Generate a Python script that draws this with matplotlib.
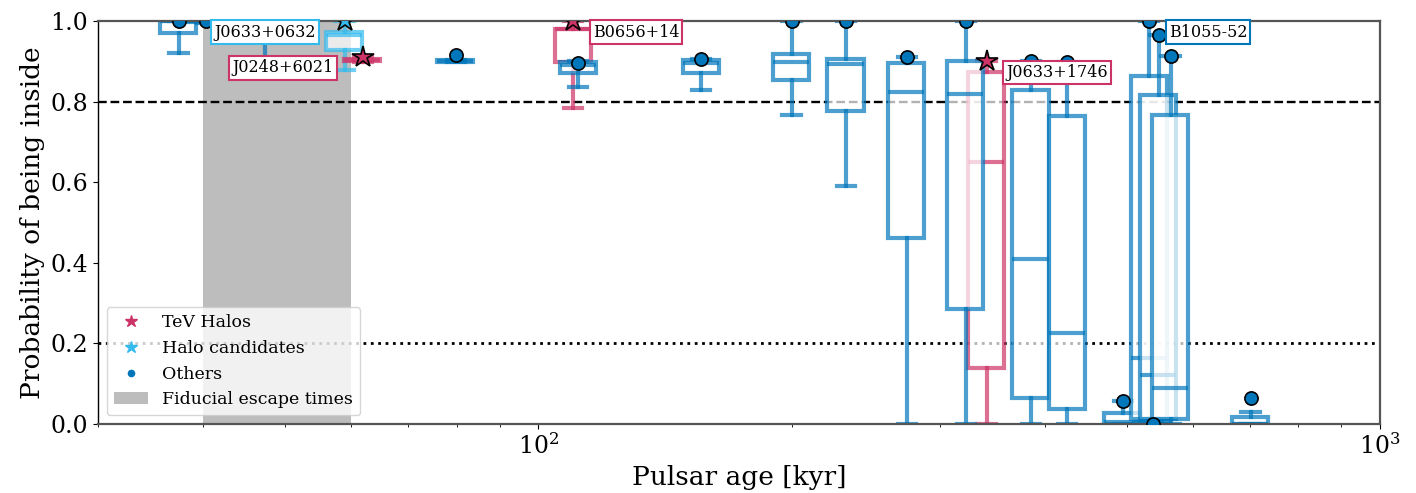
import numpy as np
import matplotlib
matplotlib.use("Agg")
import matplotlib.pyplot as plt
from matplotlib.lines import Line2D
from matplotlib.patches import Patch

plt.rcParams['font.family'] = ['DejaVu Serif']
plt.rcParams['mathtext.fontset'] = 'dejavuserif'

# ---- data ----
ages    = [37.4, 40.3, 47.4, 58.9, 61.9, 79.8, 110.1, 111.6, 156.3, 200, 232, 274, 322, 341, 385, 425, 495, 537, 532, 546, 564, 702]
whislo  = [0.921, 0.995, 0.905, 0.878, 0.898, 0.898, 0.785, 0.837, 0.829, 0.767, 0.591, 0.0, 0.0, 0.0, 0.0, 0.0, 0.0, 0.0, 0.0, 0.0, 0.0, 0.0]
q1      = [0.970, 0.998, 0.960, 0.928, 0.900, 0.899, 0.899, 0.871, 0.871, 0.854, 0.777, 0.461, 0.285, 0.138, 0.064, 0.036, 0.0, 0.0, 0.012, 0.012, 0.012, 0.0]
median  = [1.000, 1.000, 0.990, 0.965, 0.903, 0.901, 0.980, 0.890, 0.897, 0.898, 0.893, 0.823, 0.818, 0.649, 0.409, 0.225, 0.005, 0.0, 0.165, 0.122, 0.090, 0.0]
q3      = [1.000, 1.000, 1.000, 0.973, 0.906, 0.903, 0.980, 0.898, 0.903, 0.918, 0.905, 0.895, 0.901, 0.874, 0.829, 0.764, 0.028, 0.005, 0.864, 0.816, 0.767, 0.018]
whishi  = [1.000, 1.000, 1.000, 1.000, 0.910, 0.904, 1.000, 0.900, 0.906, 1.000, 1.000, 0.911, 1.000, 0.900, 0.900, 0.899, 0.058, 0.008, 1.000, 0.965, 0.912, 0.030]
values  = [1.000, 1.000, 0.980, 1.000, 0.911, 0.916, 1.000, 0.896, 0.906, 1.000, 1.000, 0.910, 1.000, 0.900, 0.900, 0.899, 0.058, 0.0, 1.000, 0.965, 0.912, 0.065]
kinds   = ['o', 'o', 'o', 'c', 't', 'o', 't', 'o', 'o', 'o', 'o', 'o', 'o', 't', 'o', 'o', 'o', 'o', 'o', 'o', 'o', 'o']
names   = ['', '', '', 'J0633+0632', 'J0248+6021', '', 'B0656+14', '', '', '', '', '', '', 'J0633+1746', '', '', '', '', 'B1055-52', '', '', '']
label_side = {'J0633+0632': 'left', 'J0248+6021': 'left', 'B0656+14': 'right', 'J0633+1746': 'right', 'B1055-52': 'right'}

escape_band = (40, 60)
colors = {'t': '#CC3366', 'c': '#33BBEE', 'o': '#0077BB'}
legend_labels = ['TeV Halos', 'Halo candidates', 'Others', 'Fiducial escape times']

fig = plt.figure(figsize=(14.16, 4.93), dpi=100)
ax = fig.add_axes([98/1416, 1-424/493, (1380-98)/1416, (424-21)/493])

ax.set_xscale('log')
ax.set_xlim(30, 1000)
ax.set_ylim(0, 1.0)

ax.axvspan(*escape_band, color='#BDBDBD', lw=0, zorder=0)
ax.axhline(0.8, ls='--', color='k', lw=1.7, zorder=1)
ax.axhline(0.2, ls=':', color='k', lw=2.0, zorder=1)

half = 0.0215
order = {'c': 0, 't': 1, 'o': 2}
idx = sorted(range(len(ages)), key=lambda i: order[kinds[i]])
for n_draw, i in enumerate(idx):
    a = ages[i]
    c = colors[kinds[i]]
    st = dict(med=median[i], q1=q1[i], q3=q3[i], whislo=whislo[i], whishi=whishi[i], fliers=[])
    w = a * (10**half - 10**(-half))
    lp = dict(color=c, lw=3)
    art = ax.bxp([st], positions=[a], widths=[w], patch_artist=True, showfliers=False,
                 boxprops=dict(facecolor='white', edgecolor=c, lw=3),
                 whiskerprops=lp, capprops=lp, medianprops=lp, manage_ticks=False)
    for key in ('boxes', 'whiskers', 'caps', 'medians'):
        for obj in art[key]:
            obj.set_alpha(0.7)
            obj.set_zorder(2 + 0.01 * n_draw)

for i, a in enumerate(ages):
    k = kinds[i]
    c = colors[k]
    if k == 'o':
        ax.plot([a], [values[i]], 'o', color=c, mec='k', mew=1.2, ms=9.5, zorder=4)
    else:
        ax.plot([a], [values[i]], '*', color=c, mec='k', mew=1.2, ms=16, zorder=4)

for i, a in enumerate(ages):
    n = names[i]
    if not n:
        continue
    c = colors[kinds[i]]
    if label_side[n] == 'right':
        off, ha = (14, -8), 'left'
    else:
        off, ha = (-21, -8), 'right'
    ax.annotate(n, xy=(a, values[i]), xytext=off, textcoords='offset points',
                ha=ha, va='center', fontsize=11.5, zorder=6,
                bbox=dict(boxstyle='square,pad=0.2', fc='white', ec=c, lw=1.5))

handles = [Line2D([], [], ls='', marker='*', color=colors['t'], ms=9),
           Line2D([], [], ls='', marker='*', color=colors['c'], ms=9),
           Line2D([], [], ls='', marker='o', color=colors['o'], ms=4.5),
           Patch(facecolor='#BDBDBD', edgecolor='none')]
leg = ax.legend(handles, legend_labels, loc='lower left', fontsize=12.5)
leg.set_zorder(7)

ax.set_yticks([0, 0.2, 0.4, 0.6, 0.8, 1.0])
ax.tick_params(axis='both', which='major', labelsize=17)
ax.set_xlabel('Pulsar age [kyr]', fontsize=19)
ax.set_ylabel('Probability of being inside', fontsize=19)

for s in ('top', 'bottom', 'right'):
    ax.spines[s].set_color('#555555')
    ax.spines[s].set_linewidth(1.6)
ax.spines['left'].set_linewidth(1.0)

fig.savefig('out.png', dpi=100)
